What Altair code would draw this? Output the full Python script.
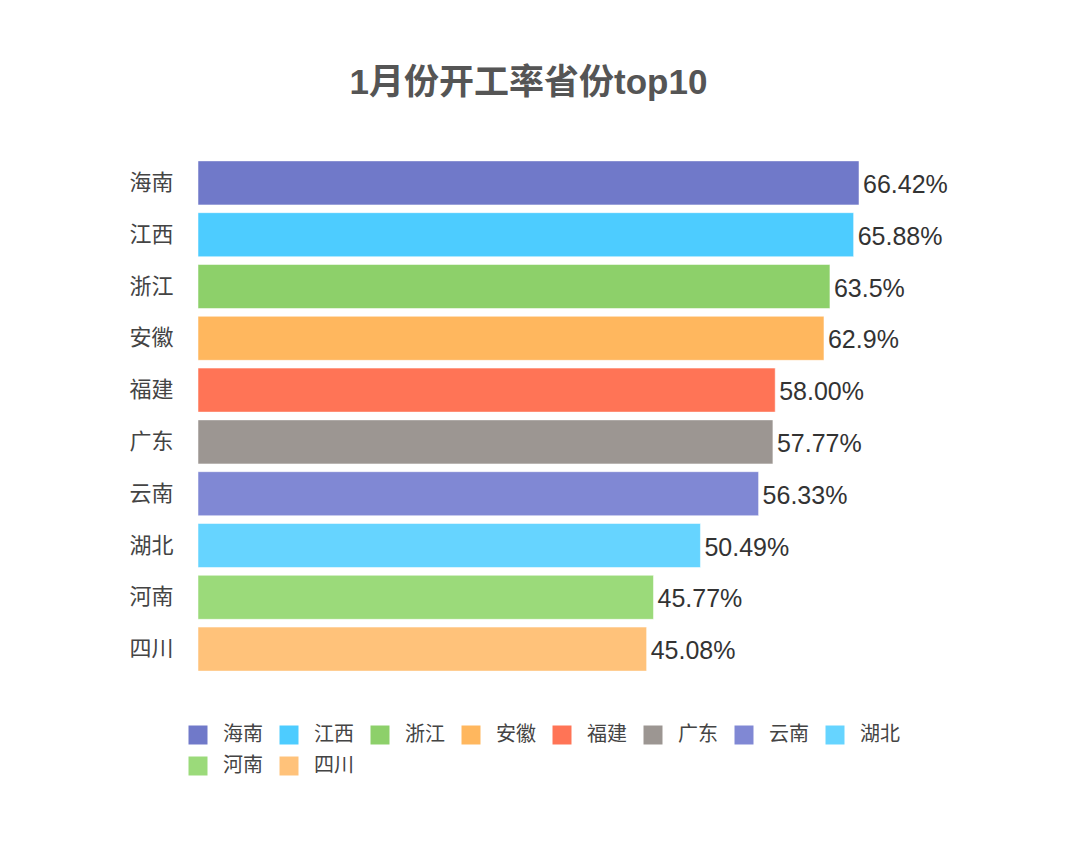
import altair as alt
import pandas as pd

provinces = ["海南", "江西", "浙江", "安徽", "福建", "广东", "云南", "湖北", "河南", "四川"]
rates = [66.42, 65.88, 63.5, 62.9, 58.00, 57.77, 56.33, 50.49, 45.77, 45.08]
rate_labels = ["66.42%", "65.88%", "63.5%", "62.9%", "58.00%", "57.77%", "56.33%", "50.49%", "45.77%", "45.08%"]
colors = ["#7079C9", "#4DCCFF", "#8DD06A", "#FFB75E", "#FF7456",
          "#9C9692", "#8088D4", "#66D4FF", "#9BDA7A", "#FFC27A"]

df = pd.DataFrame({"province": provinces, "rate": rates, "label": rate_labels})

CJK = "Liberation Sans, Noto Sans CJK SC"

y_enc = alt.Y("province:N", sort=provinces, title=None,
              scale=alt.Scale(paddingInner=0.15, paddingOuter=0.075),
              axis=alt.Axis(domain=False, ticks=False, labelFontSize=22,
                            labelColor="#444444", labelPadding=25, labelFont=CJK))
x_enc = alt.X("rate:Q", axis=None, scale=alt.Scale(domain=[0, 66.42], nice=False, zero=True))

bars = alt.Chart(df).mark_bar(stroke="white", strokeOpacity=0.5, strokeWidth=1).encode(
    y=y_enc,
    x=x_enc,
    color=alt.Color("province:N", sort=provinces,
                    scale=alt.Scale(domain=provinces, range=colors),
                    legend=alt.Legend(title=None, orient="none", legendX=-10, legendY=568,
                                      direction="horizontal",
                                      columns=8, symbolType="square", symbolSize=361,
                                      symbolStrokeWidth=0, labelFontSize=20, labelFont=CJK,
                                      labelColor="#444444", labelOffset=15,
                                      columnPadding=16, rowPadding=11, padding=0)),
)

text = alt.Chart(df).mark_text(align="left", baseline="middle", dx=4, dy=2,
                               fontSize=25, color="#333333", font=CJK).encode(
    y=alt.Y("province:N", sort=provinces),
    x="rate:Q",
    text="label:N",
)

chart = alt.layer(bars, text).properties(
    width=661, height=518,
    title=alt.TitleParams("1月份开工率省份top10", fontSize=35, fontWeight="bold",
                          color="#555555", font=CJK, anchor="middle", offset=56),
    autosize=alt.AutoSizeParams(type="none"),
    padding={"left": 190, "top": 149, "right": 213, "bottom": 163},
).configure_view(stroke=None)

chart.save("out.html", embed_options={"renderer": "svg", "actions": False})
